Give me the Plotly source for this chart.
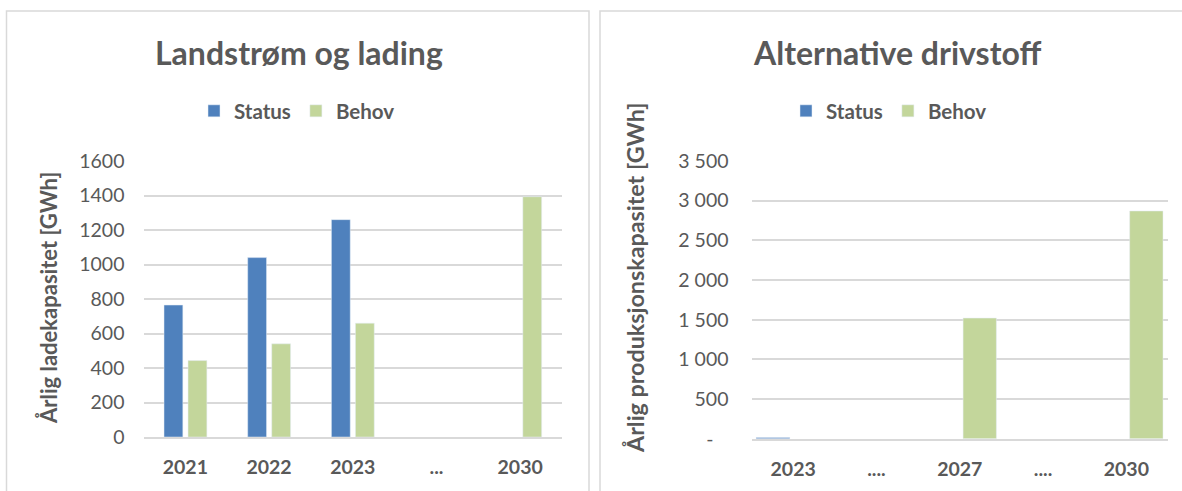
import plotly.graph_objects as go

# ---- data ----
left_categories = ["2021", "2022", "2023", "...", "2030"]
left_status = [765, 1040, 1260, None, None]
left_behov = [443, 540, 660, None, 1393]
left_yticks = [0, 200, 400, 600, 800, 1000, 1200, 1400, 1600]

right_categories = ["2023", "....", "2027", "....", "2030"]
right_status = [15, None, None, None, None]
right_behov = [None, None, 1520, None, 2870]
right_yticks = [0, 500, 1000, 1500, 2000, 2500, 3000, 3500]
right_yticktext = ["-\u00a0\u00a0\u00a0", "500", "1 000", "1 500", "2 000", "2 500", "3 000", "3 500"]

series_names = ["Status", "Behov"]
colors = ["#4f81bd", "#c3d69b"]

W, H = 1182, 491
FONT = "Lato"
TXT = "#595959"
GRID = "#d9d9d9"


def px(x):
    return x / W


def py(y):
    return 1 - y / H


left_x = list(range(len(left_categories)))
right_x = list(range(len(right_categories)))

fig = go.Figure()

fig.add_trace(go.Bar(x=left_x, y=left_status, name=series_names[0], marker_color=colors[0],
                     width=0.225, offset=-0.255, xaxis="x", yaxis="y", legend="legend"))
fig.add_trace(go.Bar(x=left_x, y=left_behov, name=series_names[1], marker_color=colors[1],
                     width=0.225, offset=0.032, xaxis="x", yaxis="y", legend="legend"))
fig.add_trace(go.Bar(x=right_x, y=right_status, name=series_names[0], marker_color=colors[0],
                     width=0.405, offset=-0.445, xaxis="x2", yaxis="y2", legend="legend2"))
fig.add_trace(go.Bar(x=right_x, y=right_behov, name=series_names[1], marker_color=colors[1],
                     width=0.40, offset=0.04, xaxis="x2", yaxis="y2", legend="legend2"))

axis_font = dict(family=FONT, size=19.5, color=TXT)
xaxis_font = dict(family=FONT, size=19.5, color=TXT, weight="bold")
legend_font = dict(family=FONT, size=20.5, color=TXT, weight="bold")

fig.update_layout(
    width=W, height=H,
    margin=dict(l=0, r=0, t=0, b=0, autoexpand=False),
    paper_bgcolor="white", plot_bgcolor="white",
    barmode="overlay",
    font=dict(family=FONT, color=TXT),
    xaxis=dict(domain=[px(143.5), px(562)], range=[-0.5, 4.5], tickvals=left_x,
               ticktext=left_categories, tickfont=xaxis_font, showgrid=False,
               showline=True, linecolor=GRID, linewidth=2, ticks="", ticklabelstandoff=12,
               zeroline=False, fixedrange=True, automargin=False),
    yaxis=dict(domain=[py(437), py(161)], range=[0, 1600], tickvals=left_yticks,
               tickfont=axis_font, showgrid=True, gridcolor=GRID, gridwidth=1.5,
               zeroline=False, ticks="", ticklabelstandoff=18, fixedrange=True, automargin=False),
    xaxis2=dict(domain=[px(751.5), px(1168)], range=[-0.5, 4.5], tickvals=right_x,
                ticktext=right_categories, tickfont=xaxis_font, showgrid=False,
                showline=True, linecolor=GRID, linewidth=2, ticks="", ticklabelstandoff=12,
                zeroline=False, anchor="y2", fixedrange=True, automargin=False),
    yaxis2=dict(domain=[py(438.7), py(161)], range=[0, 3500], tickvals=right_yticks,
                ticktext=right_yticktext, tickfont=axis_font, showgrid=True, gridcolor=GRID,
                gridwidth=1.5, zeroline=False, ticks="", ticklabelstandoff=22, anchor="x2",
                fixedrange=True, automargin=False),
    legend=dict(orientation="h", x=px(297), xanchor="center", y=py(111), yanchor="middle",
                font=legend_font, itemwidth=30, tracegroupgap=0, bgcolor="rgba(0,0,0,0)"),
    legend2=dict(orientation="h", x=px(889), xanchor="center", y=py(111), yanchor="middle",
                 font=legend_font, itemwidth=30, tracegroupgap=0, bgcolor="rgba(0,0,0,0)"),
    showlegend=True,
)

# chart titles
fig.add_annotation(text="<b>Landstrøm og lading</b>", x=px(298.5), y=py(52), xref="paper", yref="paper",
                   showarrow=False, font=dict(family=FONT, size=32, color=TXT), xanchor="center", yanchor="middle")
fig.add_annotation(text="<b>Alternative drivstoff</b>", x=px(897), y=py(52), xref="paper", yref="paper",
                   showarrow=False, font=dict(family=FONT, size=32, color=TXT), xanchor="center", yanchor="middle")

# axis titles
fig.add_annotation(text="<b>Årlig ladekapasitet [GWh]</b>", x=px(48), y=py(298), xref="paper", yref="paper",
                   showarrow=False, textangle=-90, font=dict(family=FONT, size=22, color=TXT),
                   xanchor="center", yanchor="middle")
fig.add_annotation(text="<b>Årlig produksjonskapasitet [GWh]</b>", x=px(635), y=py(278), xref="paper", yref="paper",
                   showarrow=False, textangle=-90, font=dict(family=FONT, size=23.3, color=TXT),
                   xanchor="center", yanchor="middle")

# panel borders
fig.add_shape(type="rect", xref="paper", yref="paper", x0=px(6.5), x1=px(589), y0=py(520), y1=py(11),
              line=dict(color=GRID, width=1.5), fillcolor="rgba(0,0,0,0)", layer="below")
fig.add_shape(type="rect", xref="paper", yref="paper", x0=px(600), x1=px(1200), y0=py(520), y1=py(11),
              line=dict(color=GRID, width=1.5), fillcolor="rgba(0,0,0,0)", layer="below")

fig.write_html("out.html", config={"displayModeBar": False})
